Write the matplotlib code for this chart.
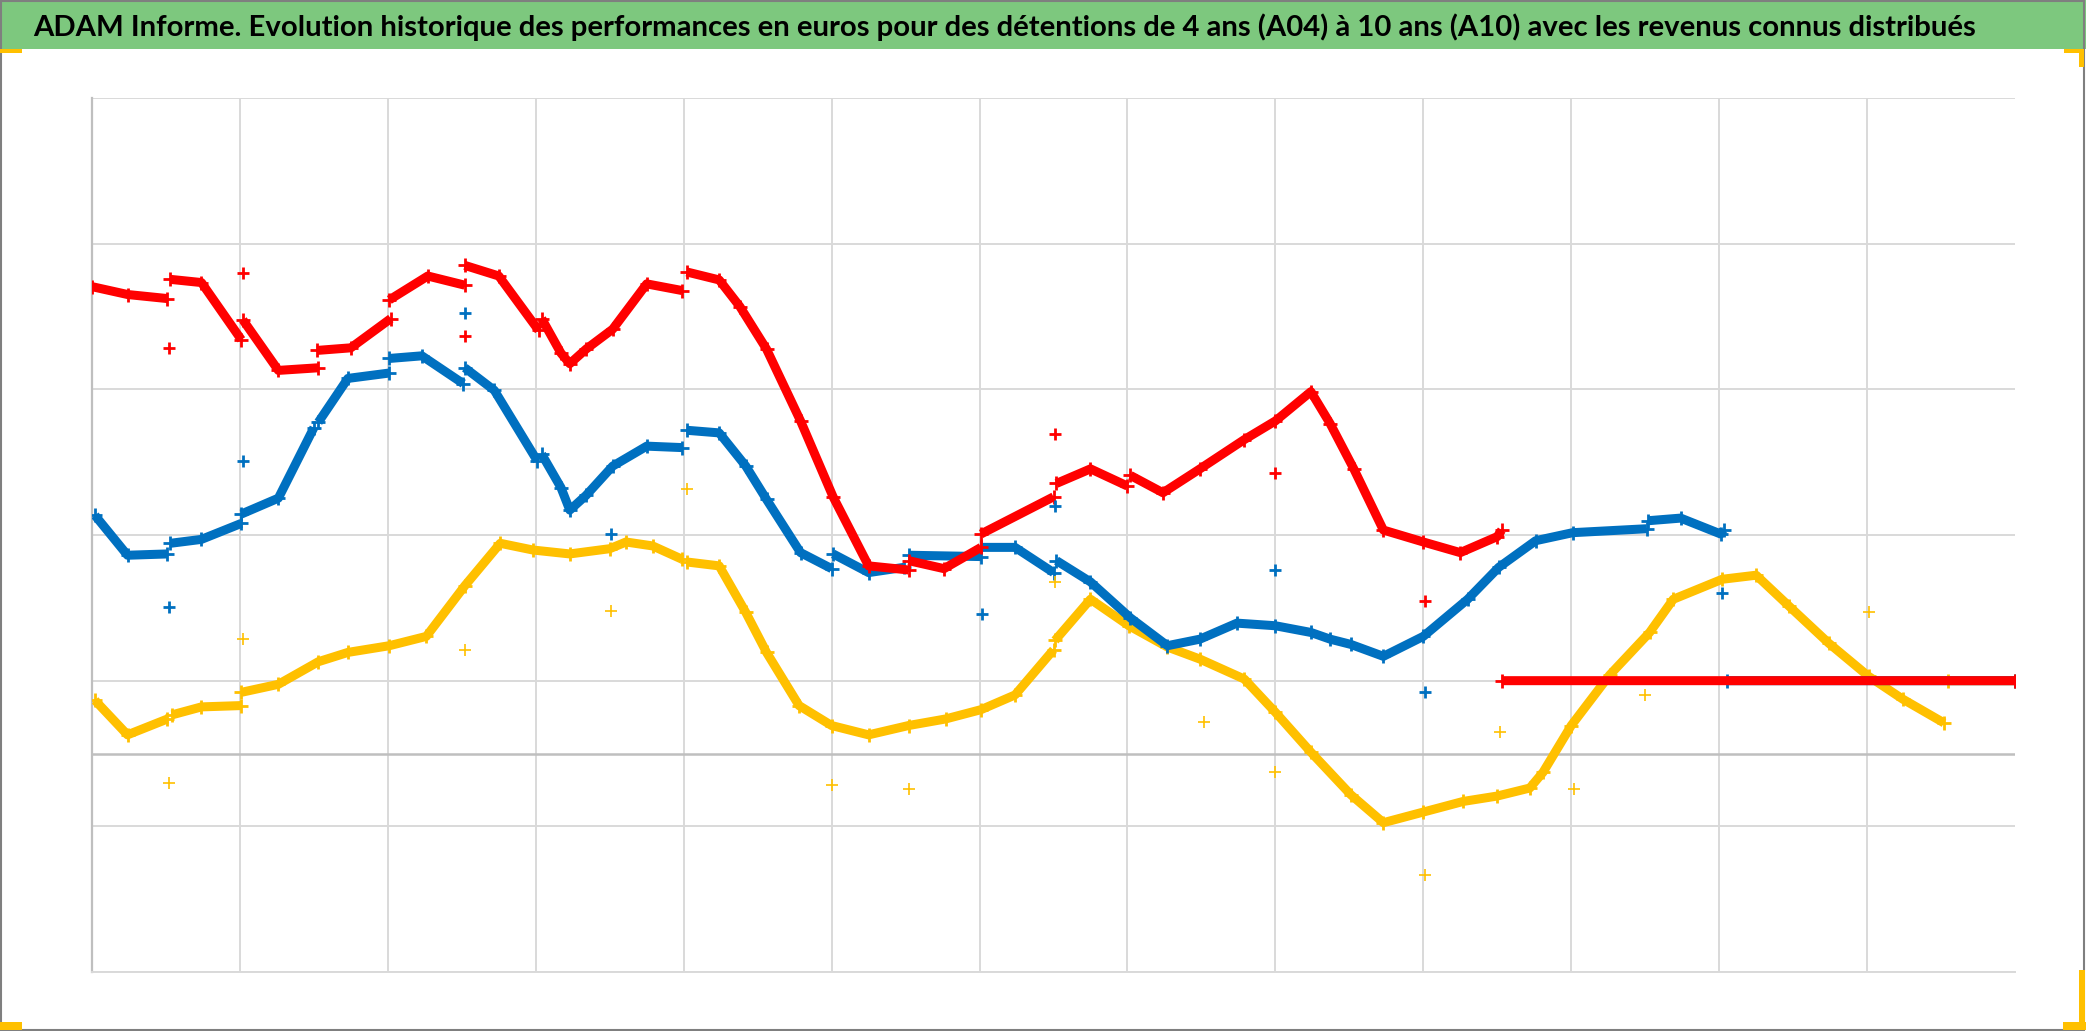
import numpy as np
import matplotlib.pyplot as plt
from matplotlib.patches import Rectangle

# Series in euros, x in years of holding period index (0..13). None = break in the series
red_x = [0.00, 0.24, 0.51, None,
         0.53, 0.74, 1.01, None,
         1.02, 1.26, 1.53, None,
         1.52, 1.75, 2.02, None,
         2.01, 2.27, 2.52, None,
         2.52, 2.75, 3.02, None,
         3.04, 3.17, 3.23, 3.34, 3.52, 3.75, 3.99, None,
         4.02, 4.24, 4.38, 4.56, 4.79, 5.01, 5.25, 5.52, None,
         5.52, 5.76, 6.01, None,
         6.01, 6.50, None,
         6.52, 6.75, 7.00, None,
         7.02, 7.24, 7.49, 7.79, 8.00, 8.24, 8.37, 8.53, 8.73, 9.00, 9.25, 9.50, 9.53, None,
         9.53, 13.00]
red_y = [3205, 3151, 3123, None,
         3255, 3233, 2840, None,
         2977, 2630, 2648, None,
         2767, 2785, 2986, None,
         3114, 3278, 3215, None,
         3351, 3278, 2904, None,
         2986, 2749, 2676, 2776, 2913, 3224, 3178, None,
         3306, 3251, 3068, 2776, 2283, 1762, 1288, 1260, None,
         1324, 1269, 1415, None,
         1507, 1762, None,
         1854, 1954, 1836, None,
         1909, 1790, 1954, 2155, 2283, 2484, 2265, 1954, 1534, 1452, 1379, 1489, 1534, None,
         500, 500]

blue_x = [0.02, 0.24, 0.51, None,
          0.53, 0.74, 1.01, None,
          1.01, 1.26, 1.50, None,
          1.53, 1.73, 2.01, None,
          2.01, 2.23, 2.51, None,
          2.52, 2.72, 3.01, None,
          3.04, 3.17, 3.23, 3.34, 3.52, 3.75, 3.99, None,
          4.02, 4.24, 4.42, 4.56, 4.79, 5.00, None,
          5.01, 5.25, 5.49, None,
          5.52, 6.01, None,
          6.01, 6.24, 6.50, None,
          6.52, 6.75, 7.02, 7.27, 7.49, 7.74, 8.00, 8.24, 8.37, 8.51, 8.73, 9.00, 9.30, 9.51, 9.76, 10.01, 10.51, None,
          10.52, 10.74, 11.01, 11.03, None,
          11.05, 13.00]
blue_y = [1635, 1361, 1370, None,
          1443, 1470, 1580, None,
          1644, 1753, 2237, None,
          2274, 2575, 2612, None,
          2712, 2730, 2539, None,
          2648, 2493, 2009, None,
          2055, 1826, 1671, 1772, 1973, 2110, 2100, None,
          2219, 2201, 1973, 1744, 1379, 1269, None,
          1370, 1242, 1278, None,
          1361, 1352, None,
          1415, 1415, 1242, None,
          1324, 1178, 931, 740, 785, 895, 877, 831, 785, 749, 667, 804, 1059, 1278, 1461, 1516, 1543, None,
          1598, 1616, 1507, 1534, None,
          500, 500]

yellow_x = [0.02, 0.24, 0.51, None,
            0.54, 0.74, 1.01, None,
            1.01, 1.26, 1.53, 1.73, 2.01, 2.26, 2.52, 2.76, 2.98, 3.23, 3.50, 3.61, 3.79, 3.99, None,
            4.02, 4.24, 4.42, 4.56, 4.78, 5.00, 5.25, 5.52, 5.77, 6.01, 6.24, 6.50, None,
            6.51, 6.75, 7.01, 7.27, 7.49, 7.79, 8.00, 8.24, 8.51, 8.73, 9.00, 9.27, 9.50, 9.72, 9.81,
            10.00, 10.26, 10.53, 10.69, 11.02, 11.25, 11.47, 11.74, 12.01, 12.24, 12.52, None,
            12.55, 13.00]
yellow_y = [365, 128, 237, None,
            265, 320, 329, None,
            420, 475, 630, 694, 740, 804, 1151, 1443, 1397, 1370, 1406, 1452, 1425, 1333, None,
            1315, 1288, 968, 694, 329, 192, 128, 192, 237, 301, 402, 712, None,
            776, 1059, 877, 731, 648, 511, 283, 9, -283, -475, -402, -329, -292, -237, -128,
            192, 539, 831, 1059, 1196, 1224, 1014, 758, 530, 374, 210, None,
            500, 500]

# isolated points (distributed incomes)
red_out_x = [0.52, 1.02, 2.52, 6.51, 8.00, 9.01]
red_out_y = [2785, 3300, 2867, 2192, 1927, 1050]
blue_out_x = [0.52, 1.02, 2.52, 3.51, 6.02, 6.51, 8.00, 9.01, 11.02]
blue_out_y = [1005, 2009, 3023, 1507, 959, 1699, 1260, 420, 1105]
yellow_out_x = [0.52, 1.02, 2.52, 3.51, 4.02, 5.00, 5.52, 6.51, 7.52, 8.00, 9.01, 9.52, 10.02, 10.50, 12.01]
yellow_out_y = [-201, 785, 712, 977, 1817, -219, -247, 1178, 219, -128, -831, 146, -247, 402, 968]

title = ("ADAM Informe. Evolution historique des performances en euros pour des détentions "
         "de 4 ans (A04) à 10 ans (A10) avec les revenus connus distribués")

RED, BLUE, YELLOW = '#FF0000', '#0070C0', '#FFC000'
GREEN = '#7DC87E'
W, H = 2086, 1031

fig = plt.figure(figsize=(W / 100, H / 100), dpi=100)

# decoration layer in pixel coords
deco = fig.add_axes([0, 0, 1, 1])
deco.set_xlim(0, W)
deco.set_ylim(H, 0)
deco.axis('off')
deco.add_patch(Rectangle((0, 0), W, 49, color=GREEN, lw=0))
deco.add_patch(Rectangle((1, 1), W - 3, H - 2, fill=False, ec='#7F7F7F', lw=1.5))
for (x0, y0, w, h) in [(0, 49, 22, 4), (2064, 49, 20, 4), (2079, 49, 5, 18),
                       (0, 1022, 22, 8), (2063, 1022, 23, 8), (2079, 970, 6, 60)]:
    deco.add_patch(Rectangle((x0, y0), w, h, color=YELLOW, lw=0))
t = deco.text(33, 27, title, fontsize=24, fontweight='bold', color='black',
              family=['Lato', 'Liberation Sans', 'DejaVu Sans'],
              va='center', ha='left')
fig.canvas.draw()
bb = t.get_window_extent(fig.canvas.get_renderer())
t.set_fontsize(24 * 1946 / bb.width)

ax = fig.add_axes([92 / W, 59 / H, 1923 / W, 874 / H])
ax.set_xlim(0, 13)
ax.set_ylim(-1500, 4500)
ax.set_xticks(np.arange(0, 13))
ax.set_yticks(np.arange(-1500, 4501, 1000))
ax.grid(True, color='#D9D9D9', lw=1.4)
ax.set_axisbelow(True)
ax.tick_params(length=0, labelbottom=False, labelleft=False)
for s in ['top', 'right']:
    ax.spines[s].set_visible(False)
ax.spines['left'].set_color('#BFBFBF')
ax.spines['left'].set_linewidth(1.6)
ax.spines['bottom'].set_color('#D9D9D9')
ax.spines['bottom'].set_linewidth(1.4)
ax.axhline(0, color='#BFBFBF', lw=1.8, zorder=1)

for xs, ys, c in [(yellow_x, yellow_y, YELLOW), (blue_x, blue_y, BLUE), (red_x, red_y, RED)]:
    xs = np.array(xs, dtype=float)
    ys = np.array(ys, dtype=float)
    ax.plot(xs, ys, color=c, lw=6.5, marker='+', ms=10, mew=2, solid_capstyle='butt', zorder=3)

ax.plot(yellow_out_x, yellow_out_y, '+', color=YELLOW, ms=9, mew=1.2, zorder=3)
ax.plot(blue_out_x, blue_out_y, '+', color=BLUE, ms=8, mew=2, zorder=3)
ax.plot(red_out_x, red_out_y, '+', color=RED, ms=8, mew=2, zorder=3)

fig.savefig('out.png', dpi=100)
